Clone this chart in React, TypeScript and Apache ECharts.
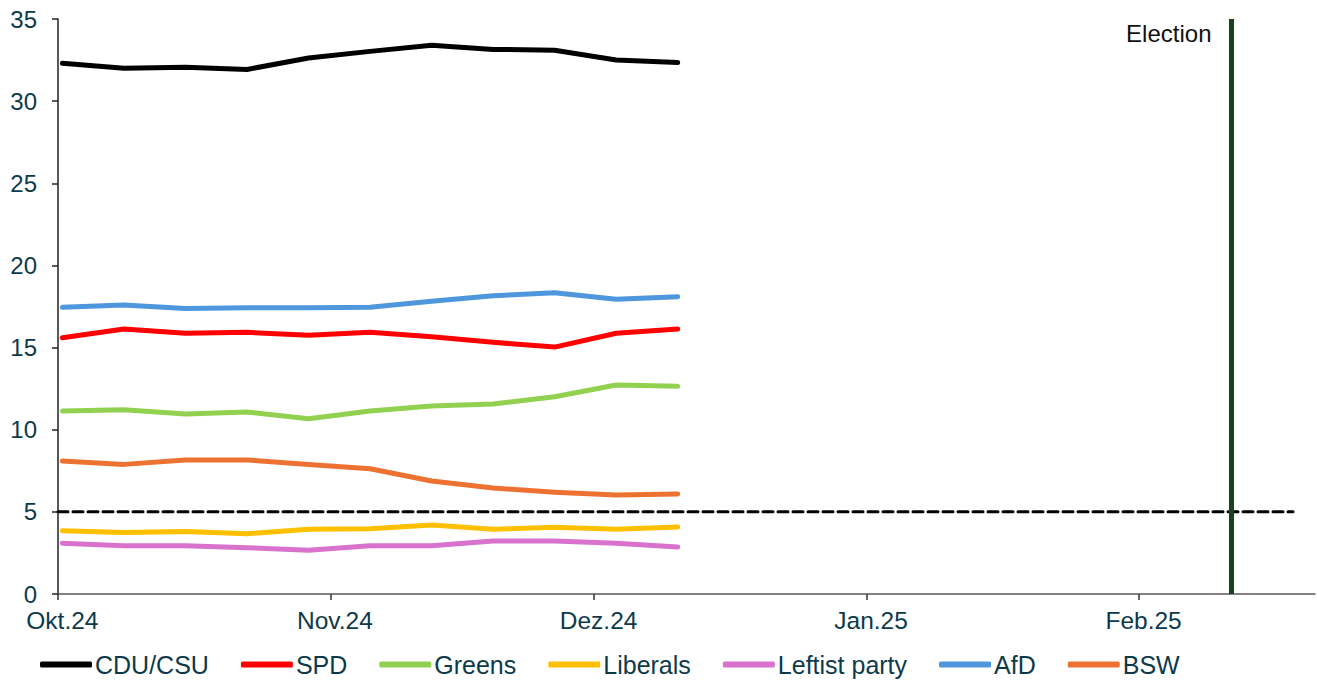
import React, { useEffect, useRef } from "react";
import * as echarts from "echarts";

const pollDates = [
  "2024-10-01", "2024-10-08", "2024-10-15", "2024-10-22", "2024-10-29",
  "2024-11-05", "2024-11-12", "2024-11-19", "2024-11-26", "2024-12-03", "2024-12-10",
];
const cduCsu = [32.3, 32.0, 32.06, 31.93, 32.63, 33.03, 33.4, 33.15, 33.1, 32.5, 32.35];
const spd = [15.6, 16.13, 15.87, 15.93, 15.75, 15.93, 15.66, 15.32, 15.03, 15.87, 16.13];
const greens = [11.14, 11.22, 10.96, 11.08, 10.67, 11.14, 11.44, 11.56, 12.01, 12.72, 12.64];
const liberals = [3.85, 3.75, 3.81, 3.67, 3.94, 3.97, 4.2, 3.94, 4.06, 3.94, 4.08];
const leftist = [3.09, 2.94, 2.94, 2.82, 2.66, 2.94, 2.94, 3.23, 3.23, 3.09, 2.86];
const afd = [17.45, 17.59, 17.38, 17.43, 17.43, 17.45, 17.82, 18.15, 18.34, 17.94, 18.1];
const bsw = [8.09, 7.89, 8.16, 8.16, 7.88, 7.62, 6.88, 6.45, 6.2, 6.03, 6.09];

const seriesNames = ["CDU/CSU", "SPD", "Greens", "Liberals", "Leftist party", "AfD", "BSW"];
const seriesColors = ["#000000", "#ff0000", "#92d050", "#ffc000", "#d872cc", "#4f97dc", "#ed7231"];

const monthStarts = ["2024-10-01", "2024-11-01", "2024-12-01", "2025-01-01", "2025-02-01"];
const monthLabels = ["Okt.24", "Nov.24", "Dez.24", "Jan.25", "Feb.25"];

const axisStart = "2024-10-01";
const axisEnd = "2025-02-21";
const thresholdValue = 5;
const thresholdEnd = "2025-02-18T12:00:00";
const electionDate = "2025-02-11T12:00:00";
const electionLabel = "Election";

const ts = (s: string) => new Date(s.length === 10 ? s + "T00:00:00Z" : s + "Z").getTime();
const HALF_DAY = 12 * 3600 * 1000;

const TEXT = "#0d3a4a";
const FONT = "'Liberation Sans', Arial, sans-serif";

export default function App() {
  const ref = useRef<HTMLDivElement>(null);
  useEffect(() => {
    if (!ref.current) return;
    const chart = echarts.init(ref.current, undefined, { renderer: "svg" });
    const values = [cduCsu, spd, greens, liberals, leftist, afd, bsw];
    const tickVals = monthStarts.map(ts);
    const labelVals = monthStarts.map((m) => ts(m) + HALF_DAY);
    const series: any[] = values.map((arr, i) => ({
      name: seriesNames[i],
      type: "line",
      data: arr.map((v, j) => [ts(pollDates[j]) + HALF_DAY, v]),
      symbol: "none",
      lineStyle: { width: 5, color: seriesColors[i], cap: "round", join: "round" },
      itemStyle: { color: seriesColors[i] },
      z: 10 - i,
    }));
    series.push({
      name: "threshold",
      type: "line",
      data: [
        [ts(axisStart), thresholdValue],
        [ts(thresholdEnd), thresholdValue],
      ],
      symbol: "none",
      lineStyle: { width: 3, color: "#000", type: [10, 5], cap: "round" },
      z: 2,
      markLine: {
        silent: true,
        symbol: "none",
        label: { show: false },
        lineStyle: { color: "#17441c", width: 5, type: "solid" },
        data: [{ xAxis: ts(electionDate) }],
      },
    });
    chart.setOption({
      animation: false,
      textStyle: { fontFamily: FONT },
      grid: { left: 58, right: 2, top: 19, bottom: 88, containLabel: false },
      legend: {
        data: seriesNames,
        left: 35,
        top: 647,
        icon: "roundRect",
        itemWidth: 52,
        itemHeight: 6,
        itemGap: 32,
        textStyle: { color: TEXT, fontSize: 25, fontFamily: FONT, padding: [0, 0, 0, -2] },
      },
      xAxis: {
        type: "value",
        min: ts(axisStart),
        max: ts(axisEnd),
        axisLine: { show: true, lineStyle: { color: "#595959", width: 1.5 } },
        axisTick: {
          show: true,
          customValues: tickVals,
          length: 6,
          lineStyle: { color: "#333", width: 1.5 },
        },
        axisLabel: {
          customValues: labelVals,
          color: TEXT,
          fontSize: 24.5,
          fontFamily: FONT,
          margin: 14,
          formatter: (v: number) => {
            const idx = labelVals.indexOf(v);
            return idx >= 0 ? monthLabels[idx] : "";
          },
        },
        splitLine: { show: false },
      },
      yAxis: {
        type: "value",
        min: 0,
        max: 35,
        interval: 5,
        axisLine: { show: true, lineStyle: { color: "#222", width: 1.5 } },
        axisTick: { show: true, length: 6, lineStyle: { color: "#222", width: 1.5 } },
        axisLabel: { color: TEXT, fontSize: 24, fontFamily: FONT, margin: 21 },
        splitLine: { show: false },
      },
      series,
    });
    const p = chart.convertToPixel({ xAxisIndex: 0, yAxisIndex: 0 }, [ts(electionDate), 35]) as number[];
    chart.setOption({
      graphic: [
        {
          type: "text",
          x: p[0] - 20,
          y: p[1] + 14,
          style: {
            text: electionLabel,
            fill: "#111",
            fontSize: 24,
            fontFamily: FONT,
            align: "right",
            verticalAlign: "middle",
          },
        },
      ],
    });
    return () => chart.dispose();
  }, []);
  return (
    <div
      ref={ref}
      style={{ position: "fixed", left: 0, top: 0, width: "1317px", height: "682px", background: "#fff" }}
    />
  );
}
